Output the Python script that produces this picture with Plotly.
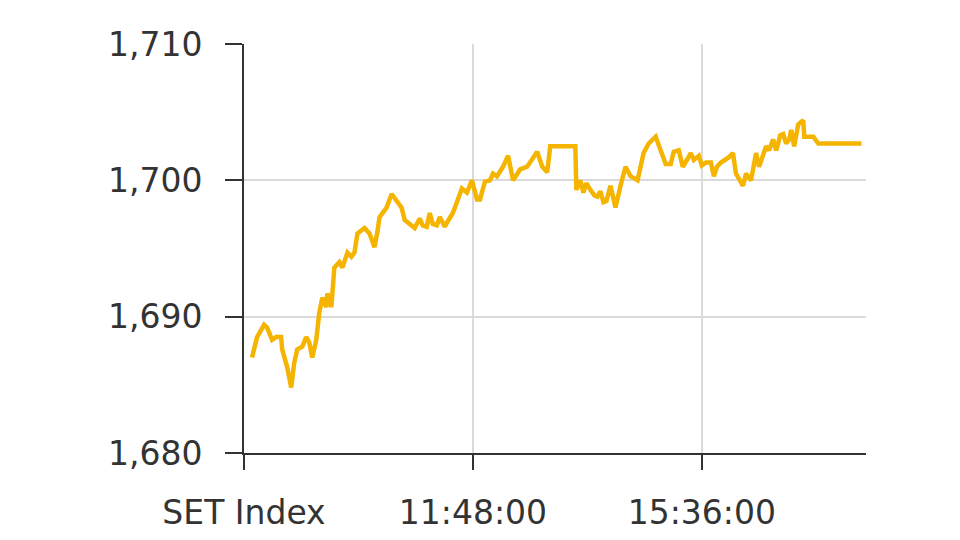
import plotly.graph_objects as go

# minutes after 08:00 and SET index values
minutes = [8, 13, 20, 23, 28, 32, 37, 38, 43, 47, 50, 53, 58, 62, 65, 68, 72, 75, 78, 82,
           83, 87, 90, 95, 98, 103, 107, 110, 113, 120, 125, 130, 133, 135, 142, 147, 152, 157, 160, 165,
           170, 175, 178, 182, 185, 188, 192, 195, 198, 200, 203, 208, 213, 217, 222, 225, 227, 232, 235, 240,
           245, 248, 252, 258, 263, 268, 275, 282, 287, 292, 297, 302, 305, 330, 331, 335, 338, 341, 345, 349,
           352, 355, 358, 361, 365, 370, 375, 380, 385, 392, 398, 403, 410, 415, 420, 425, 428, 433, 437, 442,
           445, 448, 453, 456, 460, 465, 468, 471, 475, 483, 487, 490, 497, 500, 505, 510, 513, 520, 523, 527,
           530, 532, 534, 537, 540, 543, 545, 548, 552, 557, 558, 567, 572, 615]
values = [1687.0, 1688.5, 1689.4, 1689.2, 1688.3, 1688.5, 1688.5, 1687.6, 1686.3, 1684.8,
          1686.6, 1687.6, 1687.8, 1688.5, 1688.1, 1687.0, 1688.3, 1690.3, 1691.4, 1690.7,
          1691.7, 1690.7, 1693.6, 1694.0, 1693.6, 1694.7, 1694.4, 1694.7, 1696.1, 1696.5,
          1696.1, 1695.1, 1696.3, 1697.3, 1698.0, 1699.0, 1698.5, 1698.0, 1697.1, 1696.8,
          1696.5, 1697.2, 1696.7, 1696.6, 1697.6, 1696.8, 1696.7, 1697.3, 1696.9, 1696.6,
          1697.0, 1697.6, 1698.6, 1699.4, 1699.1, 1699.6, 1700.0, 1698.6, 1698.6, 1699.9,
          1700.0, 1700.5, 1700.3, 1701.0, 1701.8, 1700.0, 1700.8, 1701.0, 1701.5, 1702.1,
          1701.0, 1700.6, 1702.5, 1702.5, 1699.3, 1700.0, 1699.1, 1699.8, 1699.3, 1698.9,
          1698.8, 1699.2, 1698.4, 1698.5, 1699.6, 1698.0, 1699.6, 1701.0, 1700.3, 1700.0,
          1702.0, 1702.7, 1703.2, 1702.1, 1701.2, 1701.2, 1702.1, 1702.2, 1701.0, 1701.6,
          1702.0, 1701.5, 1701.8, 1701.1, 1701.3, 1701.3, 1700.3, 1701.0, 1701.3, 1701.7,
          1702.0, 1700.5, 1699.6, 1700.5, 1700.0, 1702.0, 1701.0, 1702.5, 1702.2, 1703.0,
          1702.2, 1702.7, 1703.3, 1703.4, 1702.7, 1703.0, 1703.7, 1702.5, 1704.1, 1704.4,
          1703.2, 1703.2, 1702.7, 1702.7]

x_tick_vals = [0, 228, 456]
x_tick_text = ["SET Index", "11:48:00", "15:36:00"]
y_tick_vals = [1680, 1690, 1700, 1710]
y_tick_text = ["1,680", "1,690", "1,700", "1,710"]

fig = go.Figure()
fig.add_trace(go.Scatter(
    x=minutes, y=values, mode="lines",
    line=dict(color="#F5B400", width=4.5),
    hoverinfo="skip",
))

font = dict(family="DejaVu Sans", size=33, color="#333333")

fig.update_layout(
    width=960, height=540,
    margin=dict(l=236, r=102, t=36, b=95),
    paper_bgcolor="white", plot_bgcolor="white",
    showlegend=False,
    font=font,
)
fig.update_xaxes(
    range=[0, 619.5], tickmode="array", tickvals=x_tick_vals, ticktext=x_tick_text,
    showgrid=True, gridcolor="#dadada", gridwidth=1.5,
    showline=True, linecolor="#333333", linewidth=2,
    ticks="outside", ticklen=15, tickwidth=2, tickcolor="#333333",
    ticklabelstandoff=14, zeroline=False, tickfont=font,
)
fig.update_yaxes(
    range=[1680, 1710], tickmode="array", tickvals=y_tick_vals, ticktext=y_tick_text,
    showgrid=True, gridcolor="#dadada", gridwidth=1.5,
    showline=True, linecolor="#333333", linewidth=2,
    ticks="outside", ticklen=17, tickwidth=2, tickcolor="#333333",
    ticklabelstandoff=16, zeroline=False, tickfont=font,
)

fig.write_html("out.html")
